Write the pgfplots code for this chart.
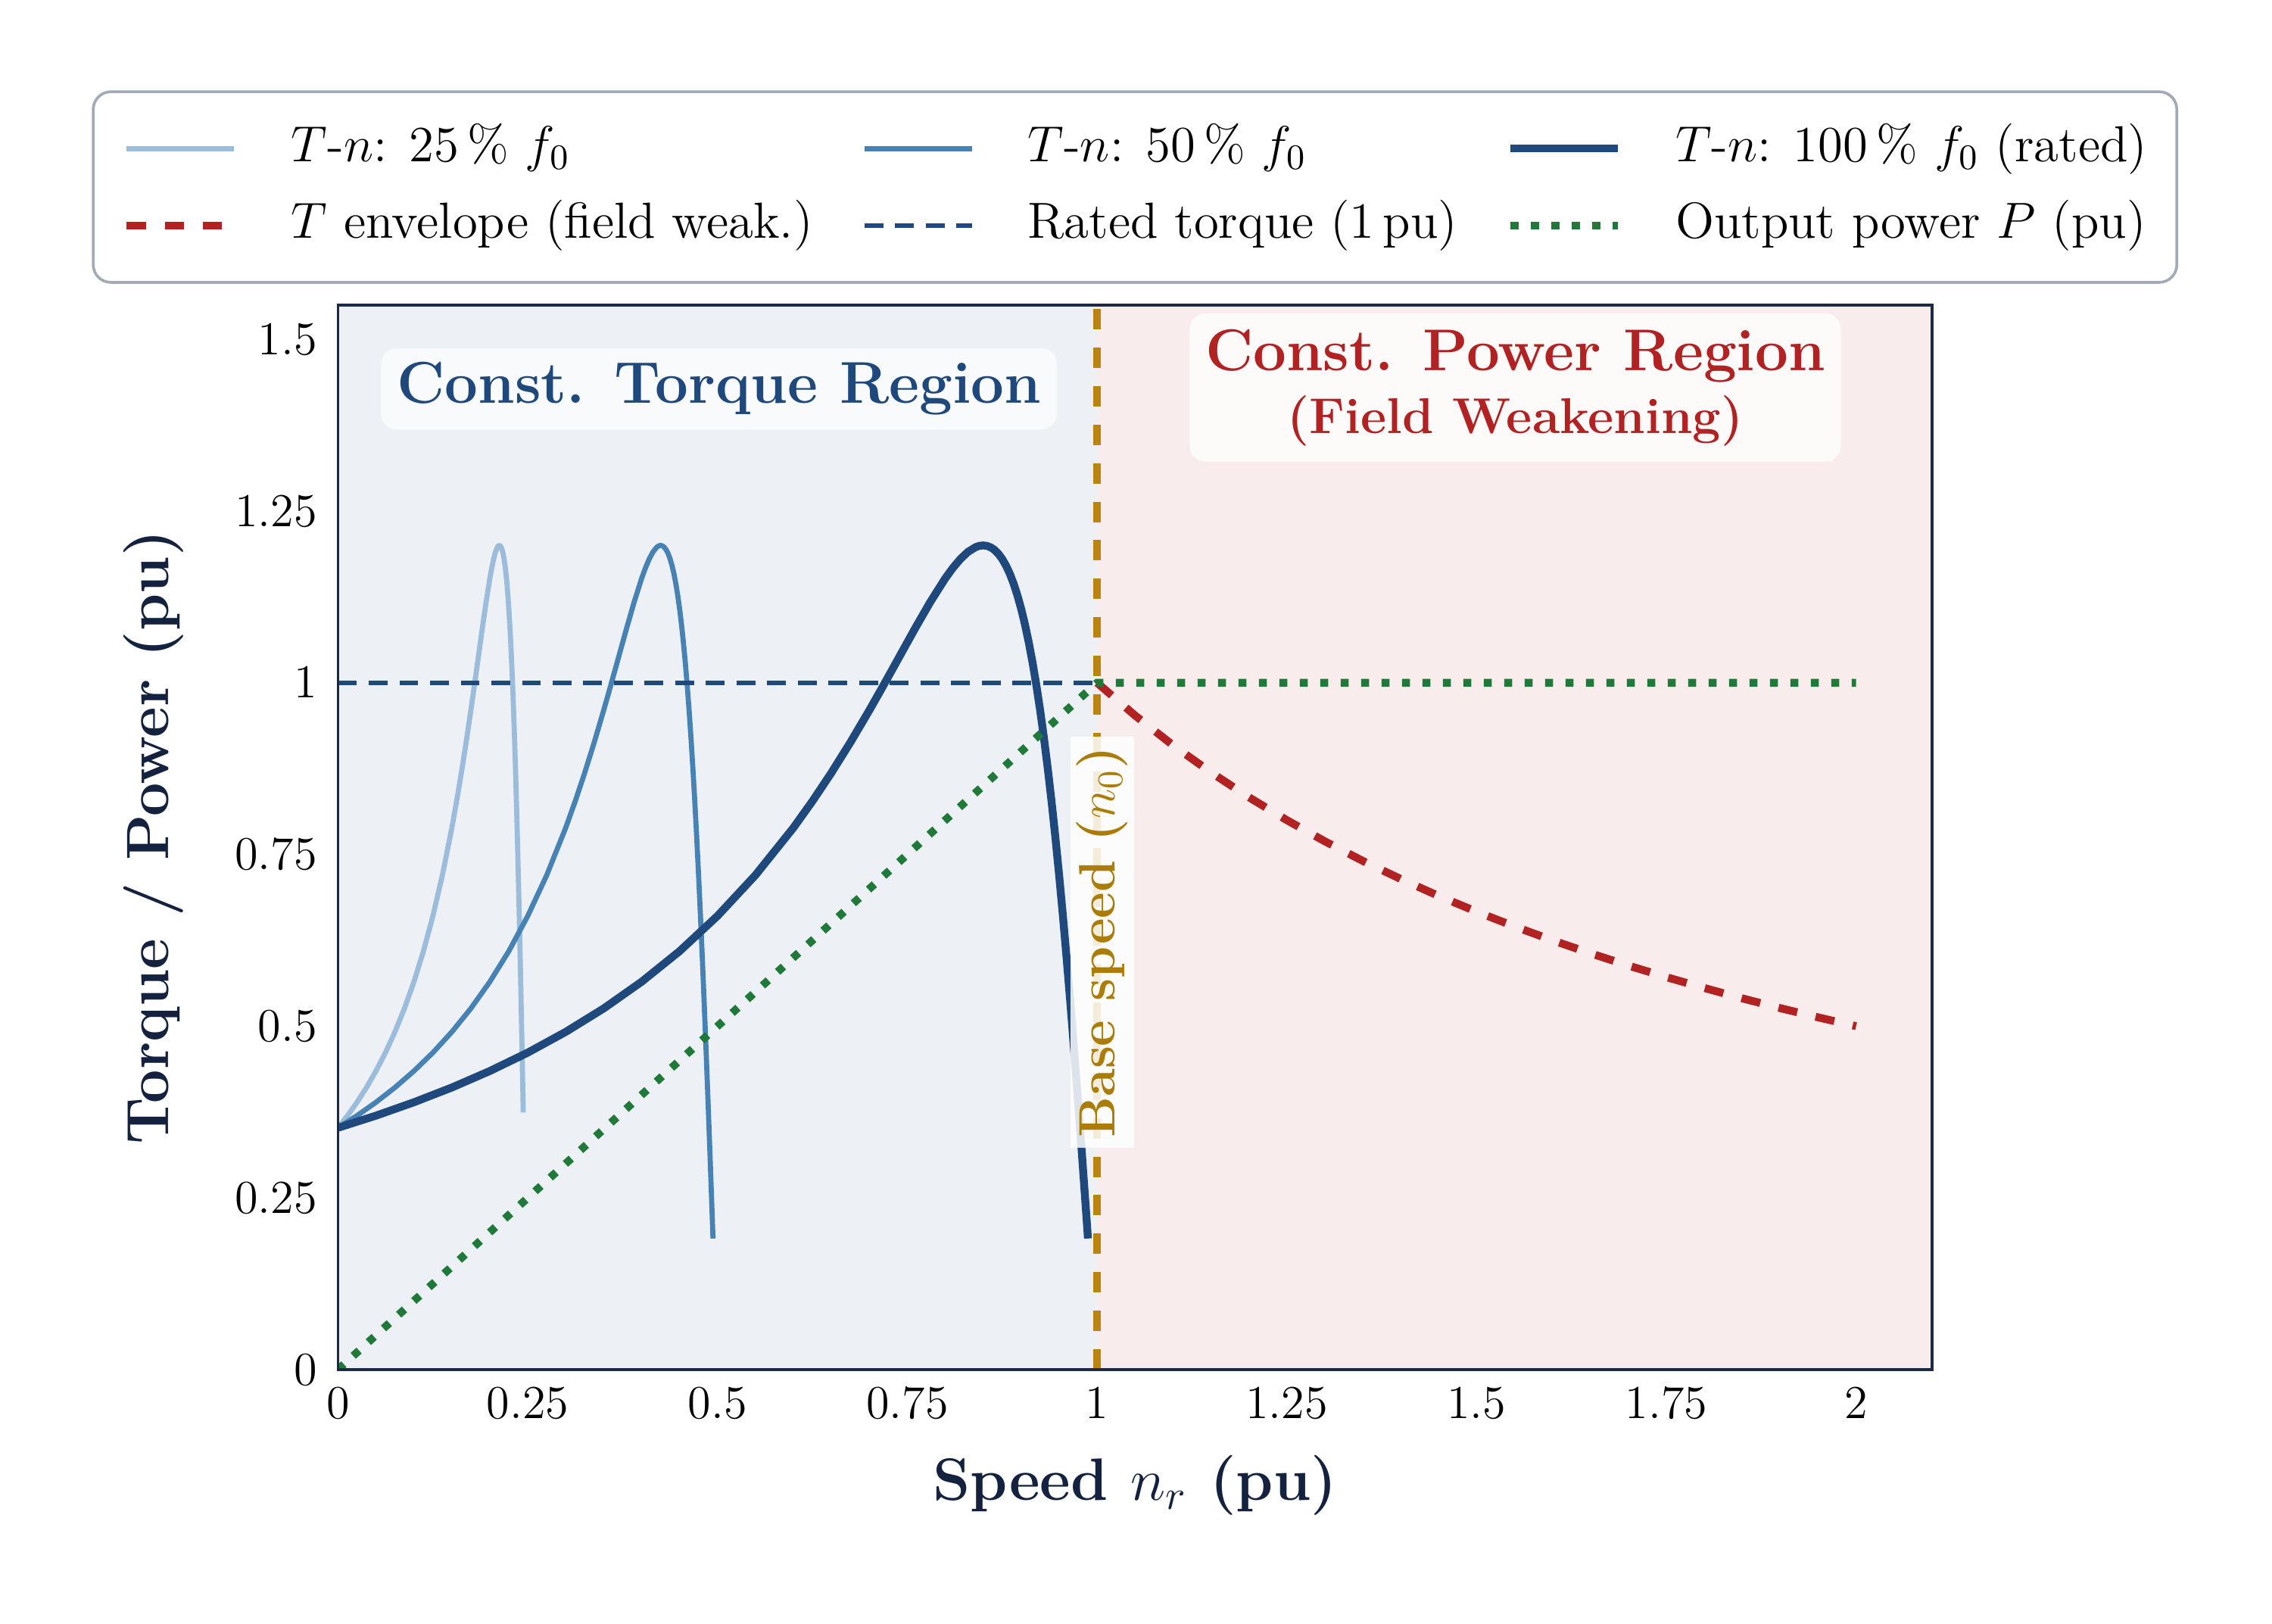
\RequirePackage{fix-cm}
\documentclass[border=0pt]{standalone}
\usepackage{pgfplots}
\pgfplotsset{compat=1.18}
\usepackage{pgfplotstable}

\definecolor{cA}{HTML}{9BBCDA}
\definecolor{cB}{HTML}{4682B4}
\definecolor{cC}{HTML}{1F497D}
\definecolor{cRed}{HTML}{B22222}
\definecolor{cGreen}{HTML}{1F7A3A}
\definecolor{cGold}{HTML}{B8860B}
\definecolor{cGoldTxt}{HTML}{AB7D06}
\definecolor{bgL}{HTML}{EDF0F5}
\definecolor{bgR}{HTML}{F8ECED}
\definecolor{axcol}{HTML}{1B2A47}
\definecolor{labcol}{HTML}{15223F}
\definecolor{legcol}{HTML}{A2A9B7}

% T-n curves (Kloss shape), 25 %, 50 % and 100 % supply frequency
\pgfplotstableread{
n T
0 0.3521
0.0125 0.3697
0.025 0.3892
0.0375 0.4107
0.05 0.4347
0.0625 0.4615
0.075 0.4917
0.0875 0.5258
0.1 0.5647
0.1125 0.6092
0.125 0.6606
0.1375 0.7200
0.15 0.7890
0.15625 0.8276
0.1625 0.8690
0.16875 0.9132
0.175 0.9600
0.17875 0.9892
0.1825 1.0189
0.18625 1.0488
0.19 1.0787
0.195 1.1171
0.2 1.1520
0.2025 1.1672
0.205 1.1803
0.2075 1.1907
0.21 1.1975
0.21125 1.1994
0.2125 1.2000
0.21375 1.1993
0.215 1.1971
0.21625 1.1934
0.2175 1.1878
0.21875 1.1803
0.22 1.1707
0.22125 1.1589
0.2225 1.1445
0.22375 1.1275
0.225 1.1077
0.22625 1.0849
0.2275 1.0588
0.22875 1.0294
0.23 0.9965
0.23125 0.9600
0.2325 0.9197
0.23375 0.8756
0.235 0.8276
0.23625 0.7757
0.2375 0.7200
0.23875 0.6606
0.24 0.5975
0.24125 0.5311
0.2425 0.4615
0.24375 0.3892
0.244 0.3744
}\tqA

\pgfplotstableread{
n T
0 0.3521
0.025 0.3697
0.05 0.3892
0.075 0.4107
0.1 0.4347
0.125 0.4615
0.15 0.4917
0.175 0.5258
0.2 0.5647
0.225 0.6092
0.25 0.6606
0.275 0.7200
0.3 0.7890
0.3125 0.8276
0.325 0.8690
0.3375 0.9132
0.35 0.9600
0.3575 0.9892
0.365 1.0189
0.3725 1.0488
0.38 1.0787
0.39 1.1171
0.4 1.1520
0.405 1.1672
0.41 1.1803
0.415 1.1907
0.42 1.1975
0.4225 1.1994
0.425 1.2000
0.4275 1.1993
0.43 1.1971
0.4325 1.1934
0.435 1.1878
0.4375 1.1803
0.44 1.1707
0.4425 1.1589
0.445 1.1445
0.4475 1.1275
0.45 1.1077
0.4525 1.0849
0.455 1.0588
0.4575 1.0294
0.46 0.9965
0.4625 0.9600
0.465 0.9197
0.4675 0.8756
0.47 0.8276
0.4725 0.7757
0.475 0.7200
0.4775 0.6606
0.48 0.5975
0.4825 0.5311
0.485 0.4615
0.4875 0.3892
0.49 0.3144
0.4925 0.2376
0.494 0.1908
}\tqB

\pgfplotstableread{
n T
0 0.3521
0.05 0.3697
0.1 0.3892
0.15 0.4107
0.2 0.4347
0.25 0.4615
0.3 0.4917
0.35 0.5258
0.4 0.5647
0.45 0.6092
0.5 0.6606
0.55 0.7200
0.6 0.7890
0.625 0.8276
0.65 0.8690
0.675 0.9132
0.7 0.9600
0.715 0.9892
0.73 1.0189
0.745 1.0488
0.76 1.0787
0.78 1.1171
0.8 1.1520
0.81 1.1672
0.82 1.1803
0.83 1.1907
0.84 1.1975
0.845 1.1994
0.85 1.2000
0.855 1.1993
0.86 1.1971
0.865 1.1934
0.87 1.1878
0.875 1.1803
0.88 1.1707
0.885 1.1589
0.89 1.1445
0.895 1.1275
0.9 1.1077
0.905 1.0849
0.91 1.0588
0.915 1.0294
0.92 0.9965
0.925 0.9600
0.93 0.9197
0.935 0.8756
0.94 0.8276
0.945 0.7757
0.95 0.7200
0.955 0.6606
0.96 0.5975
0.965 0.5311
0.97 0.4615
0.975 0.3892
0.98 0.3144
0.985 0.2376
0.988 0.1908
}\tqC

% torque envelope above base speed
\pgfplotstableread{
n T
1 1
1.05 0.9524
1.1 0.9091
1.15 0.8696
1.2 0.8333
1.25 0.8
1.3 0.7692
1.35 0.7407
1.4 0.7143
1.45 0.6897
1.5 0.6667
1.55 0.6452
1.6 0.625
1.65 0.6061
1.7 0.5882
1.75 0.5714
1.8 0.5556
1.85 0.5405
1.9 0.5263
1.95 0.5128
2 0.5
}\envl

\begin{document}
\begin{tikzpicture}
\useasboundingbox (-86pt,-64.7pt) rectangle (492pt,348.4pt);
\begin{axis}[
    at={(0,0)}, anchor=south west,
    scale only axis,
    width=405.5pt, height=270.8pt,
    xmin=0, xmax=2.1, ymin=0, ymax=1.55,
    xtick={0,0.25,0.5,0.75,1,1.25,1.5,1.75,2},
    ytick={0,0.25,0.5,0.75,1,1.25,1.5},
    major tick length=0pt,
    axis on top,
    axis line style={draw=axcol, line width=0.65pt},
    tick label style={font=\fontsize{12}{14}\selectfont},
    xticklabel style={yshift=-1.2pt},
    yticklabel style={xshift=-1.8pt},
    xlabel={Speed $n_r$ (pu)},
    ylabel={Torque / Power (pu)},
    label style={font=\fontsize{15.2}{18}\selectfont\bfseries, text=labcol},
    xlabel style={at={([yshift=-33.3pt]axis description cs:0.5,0)}, anchor=base},
    ylabel style={at={([xshift=-43.2pt]axis description cs:0,0.5)}, anchor=base, rotate=0},
    legend columns=3,
    legend cell align=left,
    legend style={
        at={(0.5,1.02)}, anchor=south,
        draw=legcol, line width=0.7pt, rounded corners=4.5pt, fill=white,
        font=\fontsize{12.9}{15}\selectfont,
        inner xsep=7.5pt, inner ysep=8pt,
        nodes={inner sep=0pt, text height=9.7pt, text depth=3.2pt, anchor=west},
        row sep=6.7pt,
        /tikz/every odd column/.append style={column sep=13.6pt},
        /tikz/every even column/.append style={column sep=12.5pt},
    },
    legend image code/.code={\draw[#1, line cap=butt] (0pt,0pt) -- (27.3pt,0pt);},
]
% shaded operating regions
\addplot[draw=none, fill=bgL, forget plot] coordinates {(0,1.55) (1,1.55)} \closedcycle;
\addplot[draw=none, fill=bgR, forget plot] coordinates {(1,1.55) (2.1,1.55)} \closedcycle;

\addplot[cA, line width=1.3pt, line join=round] table[x=n, y=T] {\tqA};
\addlegendentry{$T$-$n$: 25\,\% $f_0$}
\addplot[cB, line width=1.3pt, line join=round] table[x=n, y=T] {\tqB};
\addlegendentry{$T$-$n$: 50\,\% $f_0$}
\addplot[cC, line width=2pt, line join=round] table[x=n, y=T] {\tqC};
\addlegendentry{$T$-$n$: 100\,\% $f_0$ (rated)}
\addplot[cRed, line width=2pt, dash pattern=on 4.9pt off 4.8pt] table[x=n, y=T] {\envl};
\addlegendentry{$T$ envelope (field weak.)}
\addplot[cC, line width=1.2pt, dash pattern=on 4.8pt off 3pt] coordinates {(0,1) (1,1)};
\addlegendentry{Rated torque (1\,pu)}
\addplot[cGreen, line width=2pt, dash pattern=on 2pt off 3.2pt] coordinates {(0,0) (1,1) (2,1)};
\addlegendentry{Output power $P$ (pu)}

% base speed marker
\addplot[cGold, line width=2pt, dash pattern=on 5.2pt off 4.6pt, forget plot] coordinates {(1,0) (1,1.55)};

\node[fill=white, fill opacity=0.85, text opacity=1, rotate=90, inner xsep=2.5pt, inner ysep=1.6pt,
      text=cGoldTxt, font=\fontsize{13}{15}\selectfont\bfseries]
      at (axis cs:1.0065,0.6225) {Base speed ($n_0$)};
\node[fill=white, fill opacity=0.7, text opacity=1, rounded corners=4pt,
      inner xsep=4pt, inner ysep=3.6pt,
      text=cC, font=\fontsize{15}{18}\selectfont\bfseries]
      at (axis cs:0.502,1.428) {Const. Torque Region};
\node[fill=white, fill opacity=0.75, text opacity=1, rounded corners=4pt, align=center,
      inner xsep=4pt, inner ysep=4pt,
      text=cRed, font=\fontsize{15}{16}\selectfont\bfseries]
      at (axis cs:1.551,1.43) {Const. Power Region\\{\fontsize{12.8}{16}\selectfont (Field Weakening)}};
\end{axis}
\end{tikzpicture}
\end{document}
